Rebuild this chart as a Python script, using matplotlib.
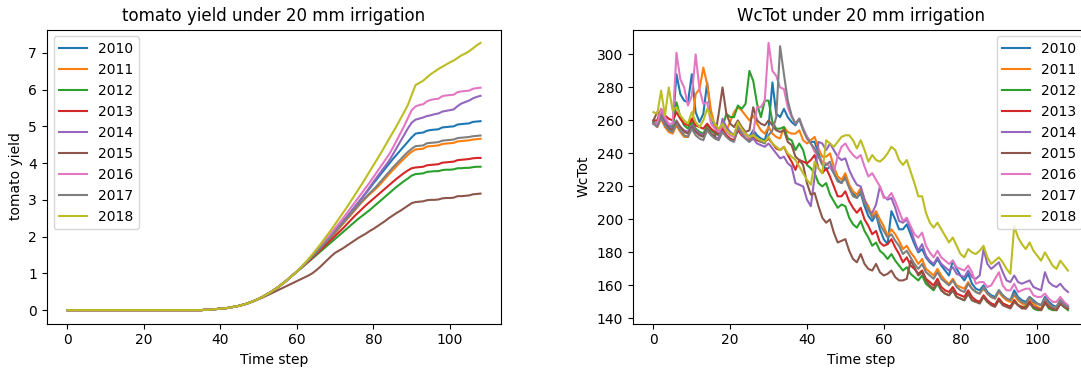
import numpy as np
import matplotlib
matplotlib.use("Agg")
import matplotlib.pyplot as plt

years = ["2010", "2011", "2012", "2013", "2014", "2015", "2016", "2017", "2018"]

# ---------------- tomato yield (left panel) ----------------
yield_zero = [0.0] * 36  # steps 0..35
yield_rise = [0.01, 0.01, 0.02, 0.03, 0.04, 0.05, 0.06, 0.08, 0.10, 0.12, 0.15, 0.18,
              0.22, 0.26, 0.31, 0.36, 0.42, 0.48, 0.55, 0.62, 0.70, 0.78, 0.87, 0.96, 1.05]  # 36..60

y2010_tail = [1.15, 1.25, 1.36, 1.47, 1.58, 1.69, 1.81, 1.93, 2.05, 2.17, 2.29, 2.41, 2.53, 2.66, 2.79, 2.92,
              3.05, 3.18, 3.31, 3.45, 3.58, 3.71, 3.84, 3.97, 4.10, 4.22, 4.34, 4.46, 4.58, 4.70, 4.80, 4.82,
              4.83, 4.88, 4.90, 4.91, 4.92, 4.97, 4.98, 4.99, 5.00, 5.05, 5.06, 5.07, 5.08, 5.12, 5.13, 5.14]
y2011_tail = [1.15, 1.24, 1.34, 1.44, 1.55, 1.66, 1.77, 1.88, 1.99, 2.10, 2.22, 2.34, 2.46, 2.58, 2.70, 2.82,
              2.94, 3.05, 3.15, 3.24, 3.34, 3.45, 3.57, 3.69, 3.80, 3.91, 4.02, 4.12, 4.22, 4.31, 4.37, 4.38,
              4.39, 4.45, 4.46, 4.47, 4.48, 4.52, 4.53, 4.54, 4.55, 4.59, 4.60, 4.61, 4.62, 4.64, 4.65, 4.66]
y2012_tail = [1.13, 1.22, 1.31, 1.40, 1.49, 1.58, 1.67, 1.76, 1.85, 1.94, 2.03, 2.12, 2.21, 2.30, 2.39, 2.48,
              2.56, 2.64, 2.72, 2.81, 2.90, 2.99, 3.08, 3.17, 3.26, 3.35, 3.43, 3.51, 3.58, 3.66, 3.70, 3.71,
              3.72, 3.76, 3.77, 3.78, 3.78, 3.81, 3.82, 3.82, 3.83, 3.86, 3.86, 3.87, 3.87, 3.89, 3.90, 3.90]
y2013_tail = [1.14, 1.23, 1.32, 1.42, 1.52, 1.62, 1.72, 1.82, 1.92, 2.02, 2.12, 2.22, 2.33, 2.44, 2.55, 2.65,
              2.75, 2.85, 2.94, 3.03, 3.12, 3.21, 3.30, 3.39, 3.48, 3.57, 3.65, 3.73, 3.80, 3.86, 3.88, 3.89,
              3.90, 3.94, 3.95, 3.96, 3.97, 4.01, 4.02, 4.03, 4.04, 4.08, 4.09, 4.10, 4.11, 4.13, 4.14, 4.14]
y2014_tail = [1.14, 1.24, 1.35, 1.46, 1.57, 1.68, 1.80, 1.92, 2.04, 2.16, 2.28, 2.40, 2.53, 2.66, 2.79, 2.92,
              3.05, 3.19, 3.34, 3.49, 3.63, 3.77, 3.91, 4.05, 4.22, 4.40, 4.58, 4.76, 4.94, 5.10, 5.18, 5.21,
              5.24, 5.28, 5.30, 5.33, 5.35, 5.40, 5.42, 5.44, 5.46, 5.55, 5.62, 5.66, 5.70, 5.76, 5.80, 5.83]
y2015_tail = [0.30, 0.34, 0.39, 0.44, 0.49, 0.54, 0.59, 0.64, 0.69, 0.74, 0.79,
              0.84, 0.89, 0.94, 1.00, 1.08, 1.17, 1.27, 1.37, 1.47, 1.56, 1.62, 1.68, 1.75, 1.82, 1.89, 1.96,
              2.02, 2.08, 2.15, 2.21, 2.28, 2.35, 2.42, 2.50, 2.57, 2.64, 2.70, 2.77, 2.84, 2.91, 2.94, 2.95,
              2.96, 2.99, 3.00, 3.00, 3.01, 3.04, 3.05, 3.05, 3.06, 3.10, 3.10, 3.11, 3.12, 3.15, 3.16, 3.17]
y2016_tail = [1.16, 1.26, 1.37, 1.48, 1.60, 1.72, 1.84, 1.97, 2.10, 2.23, 2.36, 2.49, 2.63, 2.77, 2.91, 3.05,
              3.19, 3.33, 3.47, 3.62, 3.77, 3.92, 4.07, 4.22, 4.40, 4.60, 4.80, 5.00, 5.22, 5.44, 5.54, 5.58,
              5.60, 5.68, 5.72, 5.74, 5.75, 5.82, 5.84, 5.85, 5.86, 5.93, 5.95, 5.96, 5.97, 6.02, 6.04, 6.05]
y2017_tail = [1.15, 1.25, 1.35, 1.45, 1.56, 1.67, 1.78, 1.89, 2.00, 2.12, 2.24, 2.36, 2.48, 2.60, 2.72, 2.84,
              2.96, 3.07, 3.18, 3.28, 3.39, 3.51, 3.63, 3.75, 3.87, 3.98, 4.09, 4.20, 4.30, 4.39, 4.46, 4.47,
              4.48, 4.54, 4.55, 4.56, 4.57, 4.61, 4.62, 4.63, 4.64, 4.68, 4.69, 4.70, 4.71, 4.73, 4.74, 4.75]
y2018_tail = [1.16, 1.27, 1.39, 1.51, 1.64, 1.77, 1.91, 2.05, 2.19, 2.34, 2.49, 2.64, 2.79, 2.95, 3.11, 3.27,
              3.43, 3.60, 3.77, 3.94, 4.11, 4.28, 4.46, 4.64, 4.82, 5.00, 5.19, 5.38, 5.58, 5.85, 6.12, 6.18,
              6.24, 6.33, 6.42, 6.49, 6.56, 6.62, 6.68, 6.74, 6.79, 6.86, 6.93, 6.98, 7.04, 7.12, 7.20, 7.27]

yield_series = [
    yield_zero + yield_rise + y2010_tail,
    yield_zero + yield_rise + y2011_tail,
    yield_zero + yield_rise + y2012_tail,
    yield_zero + yield_rise + y2013_tail,
    yield_zero + yield_rise + y2014_tail,
    yield_zero + yield_rise[:14] + y2015_tail,
    yield_zero + yield_rise + y2016_tail,
    yield_zero + yield_rise + y2017_tail,
    yield_zero + yield_rise + y2018_tail,
]

# ---------------- WcTot (right panel) ----------------
wc2010 = [259, 258, 264, 260, 257, 256, 288, 276, 272, 271, 288, 265, 259, 264, 283, 262, 256, 254, 258, 254,
          252, 251, 258, 254, 252, 250, 254, 251, 249, 248, 256, 283, 264, 262, 267, 262, 259, 257, 261, 255,
          250, 247, 247, 240, 234, 230, 232, 228, 224, 222, 227, 220, 216, 213, 216, 208, 202, 199, 203, 194,
          188, 185, 205, 200, 194, 194, 197, 191, 185, 180, 182, 177, 174, 172, 176, 172, 169, 166, 175, 170,
          166, 163, 167, 161, 158, 157, 160, 156, 154, 153, 157, 154, 152, 151, 157, 153, 151, 150, 153, 151,
          149, 148, 153, 150, 148, 147, 151, 149, 147]
wc2011 = [258, 256, 261, 256, 253, 252, 257, 253, 250, 250, 256, 276, 279, 292, 282, 266, 257, 254, 257, 254,
          259, 265, 268, 266, 263, 260, 263, 258, 254, 252, 256, 252, 250, 249, 256, 253, 252, 252, 254, 248,
          246, 248, 250, 243, 238, 238, 240, 232, 226, 224, 228, 221, 217, 215, 219, 212, 208, 202, 205, 200,
          196, 190, 194, 191, 187, 182, 184, 180, 177, 173, 176, 170, 168, 166, 170, 166, 163, 161, 164, 160,
          159, 158, 162, 158, 156, 155, 158, 155, 153, 152, 156, 153, 151, 150, 154, 151, 149, 148, 152, 149,
          147, 146, 151, 148, 146, 145, 150, 148, 146]
wc2012 = [259, 258, 263, 259, 256, 255, 271, 262, 257, 255, 259, 255, 253, 252, 257, 254, 252, 251, 256, 264,
          262, 262, 269, 267, 270, 290, 284, 270, 262, 272, 272, 259, 255, 255, 256, 249, 248, 242, 246, 242,
          233, 231, 228, 222, 220, 222, 215, 211, 207, 209, 208, 201, 197, 195, 199, 193, 189, 184, 186, 181,
          179, 176, 179, 175, 172, 169, 171, 167, 165, 163, 166, 161, 159, 157, 161, 157, 155, 154, 157, 153,
          152, 151, 155, 151, 150, 150, 153, 150, 149, 148, 152, 149, 148, 147, 151, 148, 147, 147, 150, 146,
          145, 145, 150, 146, 145, 145, 149, 147, 145]
wc2013 = [260, 260, 267, 263, 261, 260, 265, 261, 258, 257, 261, 257, 256, 255, 258, 255, 253, 252, 255, 251,
          249, 248, 254, 251, 249, 248, 250, 248, 247, 247, 249, 246, 243, 242, 244, 239, 235, 230, 236, 235,
          234, 236, 239, 231, 228, 231, 226, 220, 214, 214, 217, 211, 207, 204, 207, 200, 196, 191, 193, 186,
          184, 185, 188, 183, 179, 174, 177, 172, 170, 167, 169, 164, 162, 160, 164, 159, 157, 156, 159, 155,
          154, 153, 157, 153, 151, 150, 154, 151, 149, 148, 152, 149, 148, 147, 151, 148, 147, 146, 150, 147,
          146, 145, 150, 147, 146, 145, 149, 147, 146]
wc2014 = [258, 257, 265, 260, 257, 255, 260, 256, 254, 253, 257, 254, 252, 251, 255, 252, 250, 249, 261, 256,
          253, 251, 256, 252, 249, 247, 249, 246, 245, 244, 246, 243, 240, 237, 238, 234, 232, 222, 221, 220,
          212, 208, 226, 247, 246, 242, 246, 242, 238, 236, 237, 230, 225, 221, 220, 212, 205, 204, 209, 220,
          214, 212, 213, 207, 199, 198, 200, 194, 187, 181, 185, 178, 175, 173, 177, 173, 171, 169, 171, 167,
          166, 165, 169, 165, 164, 166, 182, 173, 170, 172, 174, 168, 163, 162, 166, 162, 161, 162, 163, 159,
          158, 157, 168, 162, 160, 159, 161, 158, 156]
wc2015 = [260, 265, 262, 258, 255, 254, 259, 256, 253, 252, 256, 253, 251, 250, 255, 252, 250, 264, 280, 264,
          258, 256, 260, 256, 253, 254, 268, 260, 258, 257, 260, 257, 254, 253, 254, 247, 245, 238, 236, 233,
          222, 215, 216, 208, 201, 198, 200, 192, 186, 187, 188, 181, 176, 174, 179, 173, 170, 169, 173, 168,
          166, 167, 169, 165, 163, 163, 164, 175, 171, 166, 168, 163, 160, 158, 162, 157, 155, 154, 157, 153,
          152, 151, 155, 151, 150, 149, 153, 150, 148, 147, 151, 148, 147, 146, 150, 148, 146, 146, 149, 147,
          146, 145, 149, 147, 146, 145, 149, 147, 146]
wc2016 = [258, 258, 267, 262, 258, 258, 301, 285, 280, 269, 275, 300, 279, 270, 271, 258, 255, 253, 257, 253,
          251, 250, 258, 254, 251, 249, 252, 268, 268, 272, 307, 290, 287, 280, 279, 268, 262, 258, 261, 255,
          250, 246, 241, 238, 235, 234, 232, 229, 238, 244, 246, 242, 239, 237, 239, 232, 226, 228, 224, 220,
          213, 213, 216, 211, 205, 199, 201, 196, 191, 189, 192, 184, 180, 177, 181, 177, 175, 173, 175, 171,
          170, 169, 172, 168, 161, 162, 162, 159, 160, 164, 168, 160, 157, 157, 161, 156, 157, 158, 158, 154,
          153, 153, 155, 152, 150, 150, 153, 150, 148]
wc2017 = [258, 256, 262, 257, 254, 253, 258, 254, 251, 250, 255, 251, 249, 248, 254, 251, 249, 248, 253, 250,
          248, 247, 256, 252, 249, 247, 252, 249, 247, 246, 251, 254, 262, 305, 288, 272, 263, 258, 261, 254,
          249, 246, 243, 238, 233, 233, 235, 228, 223, 222, 225, 219, 214, 213, 217, 210, 206, 201, 203, 197,
          193, 189, 191, 187, 184, 179, 181, 177, 173, 170, 173, 168, 166, 164, 168, 164, 162, 160, 163, 159,
          157, 156, 161, 158, 156, 155, 159, 155, 153, 152, 157, 154, 152, 151, 155, 152, 150, 149, 153, 150,
          149, 148, 152, 149, 147, 147, 151, 148, 147]
wc2018 = [265, 264, 278, 263, 280, 266, 268, 263, 260, 258, 265, 259, 256, 260, 267, 262, 258, 255, 258, 254,
          252, 251, 259, 255, 252, 250, 251, 249, 248, 247, 250, 246, 244, 242, 244, 240, 238, 236, 232, 228,
          224, 221, 235, 231, 228, 248, 246, 244, 247, 250, 251, 251, 248, 243, 248, 242, 235, 239, 236, 235,
          237, 240, 244, 242, 236, 233, 236, 229, 222, 214, 214, 204, 198, 195, 198, 194, 190, 186, 189, 184,
          179, 177, 182, 180, 179, 181, 184, 177, 173, 175, 177, 174, 170, 167, 196, 189, 185, 182, 186, 181,
          178, 175, 180, 176, 172, 170, 175, 172, 169]

wc_series = [wc2010, wc2011, wc2012, wc2013, wc2014, wc2015, wc2016, wc2017, wc2018]

W, H = 1081, 370
fig = plt.figure(figsize=(W / 100, H / 100), dpi=100)
ax1 = fig.add_axes([46.7 / W, 46.5 / H, 454.5 / W, 294 / H])
ax2 = fig.add_axes([632.7 / W, 46.5 / H, 456.0 / W, 294 / H])

for lab, vals in zip(years, yield_series):
    ax1.plot(np.arange(len(vals)), vals, label=lab)
ax1.set_title("tomato yield under 20 mm irrigation")
ax1.set_xlabel("Time step")
ax1.set_ylabel("tomato yield")
ax1.legend(loc="upper left")

for lab, vals in zip(years, wc_series):
    ax2.plot(np.arange(len(vals)), vals, label=lab)
ax2.set_title("WcTot under 20 mm irrigation")
ax2.set_xlabel("Time step")
ax2.set_ylabel("WcTot")
ax2.legend(loc="upper right")

fig.savefig("out.png", dpi=100)
